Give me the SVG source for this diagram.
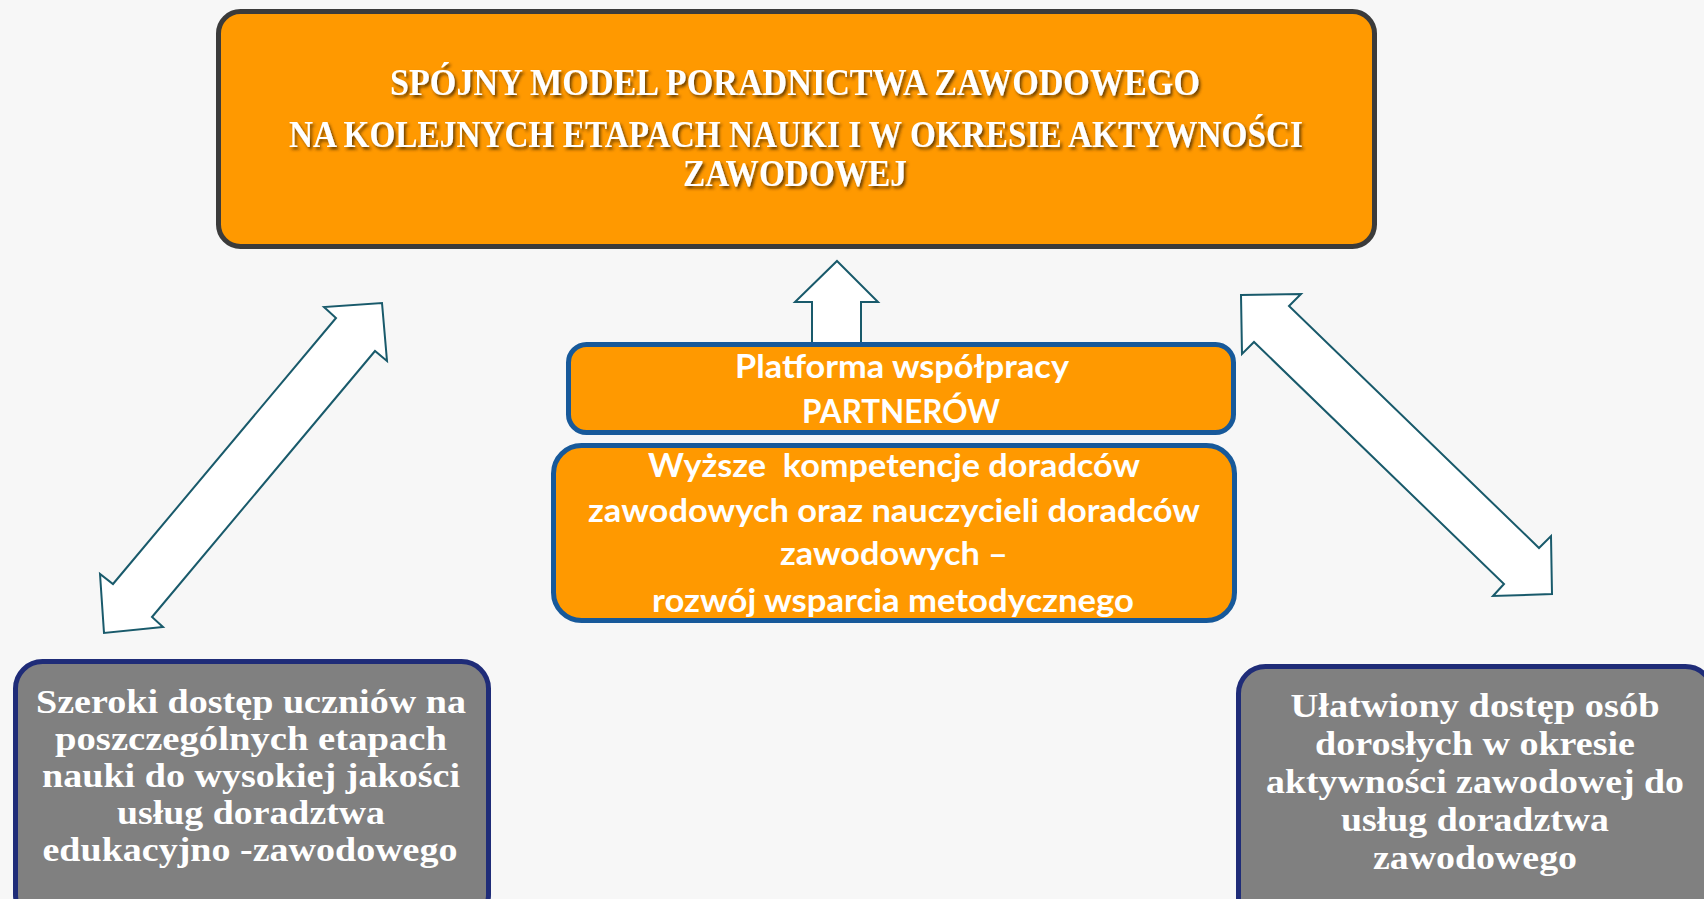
<svg xmlns="http://www.w3.org/2000/svg" width="1704" height="899" viewBox="0 0 1704 899">
<defs>
<filter id="tshadow" x="-5%" y="-30%" width="110%" height="160%">
<feDropShadow dx="2" dy="2.5" stdDeviation="1.5" flood-color="#3a2000" flood-opacity="0.75"/>
</filter>
<style>
.bg{fill:#f7f7f7}
.title-box{fill:#ff9900;stroke:#3b3b3b;stroke-width:5}
.mid-box{fill:#ff9900;stroke:#17599a;stroke-width:5}
.low-box{fill:#808080;stroke:#1f2c78;stroke-width:5}
.arrow{fill:#ffffff;stroke:#195a6b;stroke-width:2;stroke-linejoin:miter}
.title{font-family:"Liberation Serif","Times New Roman",serif;font-weight:bold;font-size:37px;fill:#ffffff;text-anchor:middle}
.mid{font-family:Lato,"Liberation Sans",sans-serif;font-weight:bold;font-size:32px;fill:#ffffff;text-anchor:middle}
.low{font-family:"Liberation Serif","Times New Roman",serif;font-weight:bold;font-size:34px;fill:#ffffff;text-anchor:middle}
</style>
</defs>
<rect class="bg" x="0" y="0" width="1704" height="899"/>

<g id="connectors">
<polygon class="arrow" points="837,261 878,302 861,302 861,346 812,346 812,302 795,302"/>
<polygon class="arrow" points="382,303 387,361 375,351 152,617 163,627 104,633 100,574 113,584 336,318 324,307"/>
<polygon class="arrow" points="1241,295 1301,294 1289,306 1539,548 1551,536 1552,594 1493,596 1504,584 1254,342 1242,354"/>
</g>

<g id="node-title">
<rect class="title-box" x="218.5" y="11.5" width="1156" height="235" rx="22" ry="22"/>
<g filter="url(#tshadow)">
<text class="title" x="795" y="95" textLength="810" lengthAdjust="spacingAndGlyphs">SPÓJNY MODEL PORADNICTWA ZAWODOWEGO</text>
<text class="title" x="796" y="147" textLength="1014" lengthAdjust="spacingAndGlyphs">NA KOLEJNYCH ETAPACH NAUKI I W OKRESIE AKTYWNOŚCI</text>
<text class="title" x="795" y="186" textLength="224" lengthAdjust="spacingAndGlyphs">ZAWODOWEJ</text>
</g>
</g>

<g id="node-platforma">
<rect class="mid-box" x="568.5" y="344.5" width="665" height="88" rx="18" ry="18"/>
<text class="mid" x="902" y="378" textLength="334" lengthAdjust="spacingAndGlyphs">Platforma współpracy</text>
<text class="mid" x="901" y="423" textLength="198" lengthAdjust="spacingAndGlyphs">PARTNERÓW</text>
</g>

<g id="node-kompetencje">
<rect class="mid-box" x="553.5" y="445.5" width="681" height="175" rx="28" ry="28"/>
<text class="mid" x="894" y="477" textLength="492" lengthAdjust="spacingAndGlyphs" xml:space="preserve">Wyższe  kompetencje doradców</text>
<text class="mid" x="894" y="522" textLength="612" lengthAdjust="spacingAndGlyphs">zawodowych oraz nauczycieli doradców</text>
<text class="mid" x="894" y="565" textLength="228" lengthAdjust="spacingAndGlyphs">zawodowych –</text>
<text class="mid" x="893" y="612" textLength="482" lengthAdjust="spacingAndGlyphs">rozwój wsparcia metodycznego</text>
</g>

<g id="node-uczniowie">
<rect class="low-box" x="15.5" y="661.5" width="473" height="260" rx="27" ry="27"/>
<text class="low" x="251" y="713" textLength="430" lengthAdjust="spacingAndGlyphs">Szeroki dostęp uczniów na</text>
<text class="low" x="251" y="750" textLength="392" lengthAdjust="spacingAndGlyphs">poszczególnych etapach</text>
<text class="low" x="251" y="787" textLength="418" lengthAdjust="spacingAndGlyphs">nauki do wysokiej jakości</text>
<text class="low" x="251" y="824" textLength="268" lengthAdjust="spacingAndGlyphs">usług doradztwa</text>
<text class="low" x="250" y="861" textLength="415" lengthAdjust="spacingAndGlyphs">edukacyjno -zawodowego</text>
</g>

<g id="node-dorosli">
<rect class="low-box" x="1238.5" y="666.5" width="474" height="260" rx="27" ry="27"/>
<text class="low" x="1475" y="717" textLength="369" lengthAdjust="spacingAndGlyphs">Ułatwiony dostęp osób</text>
<text class="low" x="1475" y="755" textLength="320" lengthAdjust="spacingAndGlyphs">dorosłych w okresie</text>
<text class="low" x="1475" y="793" textLength="418" lengthAdjust="spacingAndGlyphs">aktywności zawodowej do</text>
<text class="low" x="1475" y="831" textLength="268" lengthAdjust="spacingAndGlyphs">usług doradztwa</text>
<text class="low" x="1475" y="869" textLength="204" lengthAdjust="spacingAndGlyphs">zawodowego</text>
</g>
</svg>
